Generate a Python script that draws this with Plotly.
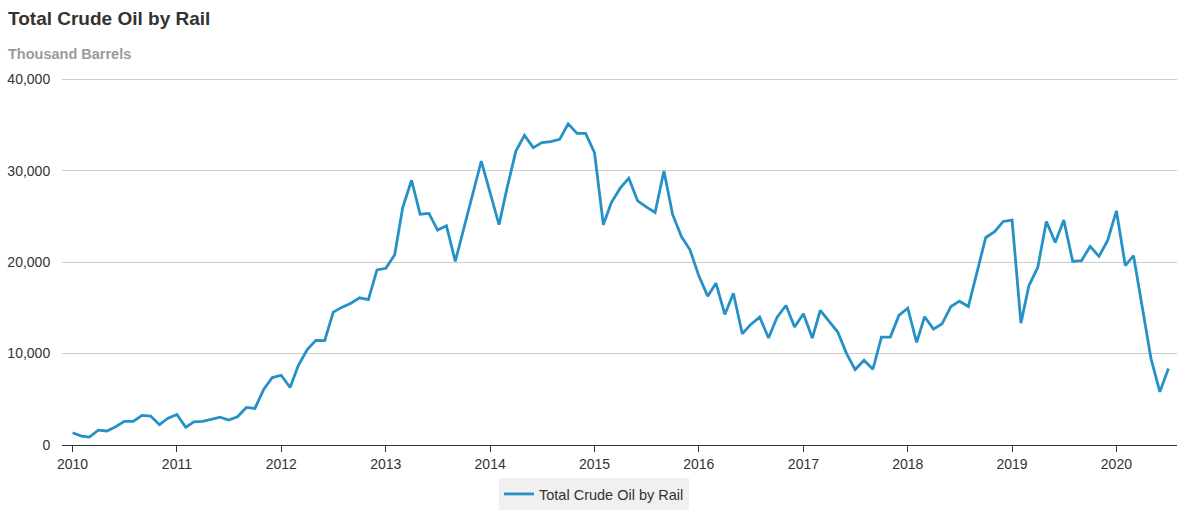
import pandas as pd
import plotly.graph_objects as go

# Monthly crude oil moved by rail, thousand barrels (Jan 2010 - Jul 2020)
start_month = "2010-01-01"
values_2010 = [1340, 980, 870, 1630, 1530, 2000, 2580, 2580, 3240, 3160, 2220, 2940]
values_2011 = [3340, 1930, 2540, 2580, 2800, 3050, 2725, 3090, 4110, 4000, 6100, 7380]
values_2012 = [7630, 6290, 8720, 10430, 11445, 11410, 14530, 15080, 15510, 16100, 15900, 19150]
values_2013 = [19330, 20800, 25980, 28960, 25250, 25330, 23510, 23980, 20090, 23750, 27400, 31060]
values_2014 = [27580, 24090, 28100, 32150, 33870, 32520, 33070, 33180, 33430, 35130, 34080, 34080]
values_2015 = [31970, 24090, 26520, 28090, 29180, 26700, 26050, 25430, 29975, 25250, 22800, 21350]
values_2016 = [18500, 16280, 17700, 14280, 16600, 12170, 13190, 13990, 11700, 13990, 15260, 12900]
values_2017 = [14350, 11700, 14715, 13550, 12350, 10000, 8250, 9265, 8285, 11800, 11800, 14170]
values_2018 = [14970, 11220, 14030, 12680, 13260, 15150, 15730, 15150, 19075, 22700, 23330, 24450]
values_2019 = [24600, 13330, 17440, 19430, 24450, 22160, 24600, 20090, 20170, 21720, 20630, 22345]
values_2020 = [25615, 19620, 20710, 14900, 9450, 5810, 8360]

series_name = "Total Crude Oil by Rail"
y_tick_values = [0, 10000, 20000, 30000, 40000]
x_tick_years = list(range(2010, 2021))

values = (values_2010 + values_2011 + values_2012 + values_2013 + values_2014 +
          values_2015 + values_2016 + values_2017 + values_2018 + values_2019 +
          values_2020)
months = pd.date_range(start_month, periods=len(values), freq="MS")

line_color = "#2691c6"
font_family = "Liberation Sans, Arial, sans-serif"

fig = go.Figure()
fig.add_trace(go.Scatter(
    x=months,
    y=values,
    mode="lines",
    name=series_name,
    line=dict(color=line_color, width=2.8),
    showlegend=True,
))

# plot area geometry; the y range runs a little past 40,000 so its gridline shows
y_max = 40250
plot_left, plot_right, plot_bottom = 62, 1177, 445
px_per_unit = (445 - 79) / 40000
plot_top = round(plot_bottom - y_max * px_per_unit)
plot_w = plot_right - plot_left
plot_h = plot_bottom - plot_top


def px_to_paper_x(px):
    return (px - plot_left) / plot_w


def px_to_paper_y(py):
    return (plot_bottom - py) / plot_h


fig.update_layout(
    width=1177,
    height=512,
    margin=dict(l=plot_left, r=1177 - plot_right, t=plot_top, b=512 - plot_bottom),
    paper_bgcolor="white",
    plot_bgcolor="white",
    font=dict(family=font_family, size=14, color="#333333"),
    showlegend=True,
    legend=dict(
        orientation="h",
        x=px_to_paper_x(594),
        xanchor="center",
        y=px_to_paper_y(478),
        yanchor="top",
        bgcolor="#f0f0f0",
        borderwidth=0,
        itemwidth=30,
        font=dict(family=font_family, size=14.5, color="#333333"),
    ),
    annotations=[
        dict(
            text="<b>Total Crude Oil by Rail</b>",
            x=px_to_paper_x(6), y=px_to_paper_y(6),
            xref="paper", yref="paper",
            xanchor="left", yanchor="top",
            showarrow=False,
            font=dict(family=font_family, size=19, color="#333333"),
        ),
        dict(
            text="<b>Thousand Barrels</b>",
            x=px_to_paper_x(6), y=px_to_paper_y(44),
            xref="paper", yref="paper",
            xanchor="left", yanchor="top",
            showarrow=False,
            font=dict(family=font_family, size=14.5, color="#9a9a9a"),
        ),
    ],
)

fig.update_xaxes(
    type="date",
    range=["2009-11-25", "2020-07-31"],
    tickvals=[f"{y}-01-01" for y in x_tick_years],
    ticktext=[str(y) for y in x_tick_years],
    showgrid=False,
    showline=True,
    linecolor="#333333",
    linewidth=1,
    ticks="outside",
    ticklen=6,
    tickcolor="#333333",
    tickfont=dict(family=font_family, size=14, color="#333333"),
    zeroline=False,
)

fig.update_yaxes(
    range=[0, y_max],
    tickvals=y_tick_values,
    ticktext=[f"{v:,}" for v in y_tick_values],
    showgrid=True,
    gridcolor="#cccccc",
    gridwidth=1,
    zeroline=False,
    showline=False,
    ticks="outside",
    ticklen=8,
    tickcolor="rgba(0,0,0,0)",
    tickfont=dict(family=font_family, size=14, color="#333333"),
)

fig.write_html("out.html")
